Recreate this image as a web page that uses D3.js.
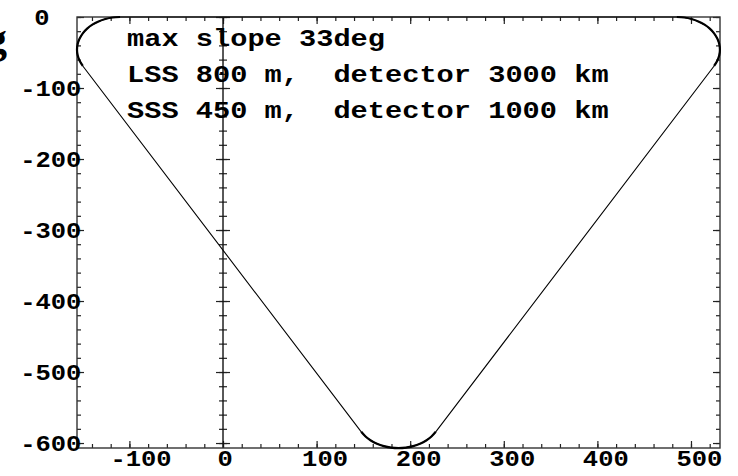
<!DOCTYPE html>
<html lang="en">
<head>
<meta charset="UTF-8">
<title>max slope 33deg</title>
<script src="https://d3js.org/d3.v7.min.js"></script>
<style>
  body { margin: 0; background: #fff; }
  svg { display: block; }
  .lbl { font-family: "Liberation Mono", "Courier New", monospace; font-weight: bold; fill: #000; }
  .tick line { stroke: #222; stroke-width: 1.2; }
</style>
</head>
<body>
<script>
const width = 738, height = 476;

const xLabels = [-100, 0, 100, 200, 300, 400, 500];
const yLabels = [0, -100, -200, -300, -400, -500, -600];
const notes = ["max slope 33deg", "LSS 800 m,  detector 3000 km", "SSS 450 m,  detector 1000 km"];

// rounded corners of the outline (x, y in m);
// the straight sides just join one corner to the next
const rightCorner = [
  [484.9, 0], [492.9, -0.7], [500.6, -2.8], [507.9, -6.2], [514.5, -10.8], [520.1, -16.4],
  [524.7, -23.0], [528.1, -30.3], [530.2, -38.0], [530.9, -46], [530.2, -54.0], [528.1, -61.7],
  [524.7, -69.0]
];
const bottomCorner = [
  [227.3, -584.2], [222.7, -590.8], [217.1, -596.4], [210.5, -601.0], [203.2, -604.4],
  [195.5, -606.5], [187.5, -607.2], [179.5, -606.5], [171.8, -604.4], [164.5, -601.0],
  [157.9, -596.4], [152.3, -590.8], [147.7, -584.2]
];
const leftCorner = [
  [-149.8, -69.0], [-153.2, -61.7], [-155.3, -54.0], [-156.0, -46], [-155.3, -38.0],
  [-153.2, -30.3], [-149.8, -23.0], [-145.2, -16.4], [-139.6, -10.8], [-133.0, -6.2],
  [-125.7, -2.8], [-118.0, -0.7], [-110.0, 0]
];

const svg = d3.select("body").append("svg")
  .attr("width", width)
  .attr("height", height);

const x = d3.scaleLinear().domain([-156, 531]).range([77, 720]);
const y = d3.scaleLinear().domain([-607, 0]).range([448, 17]);

const xMinor = d3.range(-140, 531, 20);
const yMinor = d3.range(-600, 1, 20);

function ticks(axis, values, size) {
  return axis.tickValues(values).tickSize(size).tickSizeOuter(0).tickFormat("");
}

function addAxis(axis, tx, ty) {
  const g = svg.append("g").attr("transform", `translate(${tx},${ty})`).call(axis);
  g.select(".domain").remove();
  return g;
}

// frame ticks, all pointing inwards
addAxis(ticks(d3.axisBottom(x), xMinor, -4), 0, y.range()[0]);
addAxis(ticks(d3.axisBottom(x), xLabels, -7), 0, y.range()[0]);
addAxis(ticks(d3.axisTop(x), xMinor, -4), 0, y.range()[1]);
addAxis(ticks(d3.axisTop(x), xLabels, -7), 0, y.range()[1]);
addAxis(ticks(d3.axisLeft(y), yMinor, -4), x.range()[0], 0);
addAxis(ticks(d3.axisLeft(y), yLabels, -7), x.range()[0], 0);
addAxis(ticks(d3.axisRight(y), yMinor, -4), x.range()[1], 0);
addAxis(ticks(d3.axisRight(y), yLabels, -7), x.range()[1], 0);

// vertical axis at x = 0, ticks on both sides
addAxis(ticks(d3.axisLeft(y), yMinor, 4), x(0), 0);
addAxis(ticks(d3.axisRight(y), yMinor, 4), x(0), 0);
addAxis(ticks(d3.axisLeft(y), yLabels, 7), x(0), 0);
addAxis(ticks(d3.axisRight(y), yLabels, 7), x(0), 0);

svg.append("line")
  .attr("x1", x(0)).attr("x2", x(0))
  .attr("y1", y.range()[1]).attr("y2", y.range()[0])
  .attr("stroke", "#111")
  .attr("stroke-width", 1.4);

svg.append("rect")
  .attr("x", x.range()[0])
  .attr("y", y.range()[1])
  .attr("width", x.range()[1] - x.range()[0])
  .attr("height", y.range()[0] - y.range()[1])
  .attr("fill", "none")
  .attr("stroke", "#333")
  .attr("stroke-width", 1.4);

// tick labels
svg.selectAll(".xlab")
  .data(xLabels)
  .enter().append("text")
  .attr("class", "lbl xlab")
  .attr("x", d => x(d) - 4.5 * String(d).length - 1)
  .attr("y", 466)
  .attr("font-size", 22)
  .attr("textLength", d => 15.3 * String(d).length)
  .attr("lengthAdjust", "spacingAndGlyphs")
  .text(d => d);

svg.selectAll(".ylab")
  .data(yLabels)
  .enter().append("text")
  .attr("class", "lbl ylab")
  .attr("x", d => 39 - 4.7 * String(d).length)
  .attr("y", d => y(d) + 8)
  .attr("font-size", 22)
  .attr("textLength", d => 15.3 * String(d).length)
  .attr("lengthAdjust", "spacingAndGlyphs")
  .text(d => d);

// outline
const line = d3.line().x(d => x(d[0])).y(d => y(d[1]));
svg.append("path")
  .datum(rightCorner.concat(bottomCorner, leftCorner))
  .attr("d", line.curve(d3.curveLinearClosed))
  .attr("fill", "none")
  .attr("stroke", "#000")
  .attr("stroke-width", 1.1);

const cornerLine = d3.line().x(d => x(d[0])).y(d => y(d[1])).curve(d3.curveCatmullRom);
[rightCorner, bottomCorner, leftCorner].forEach(c => {
  svg.append("path")
    .datum(c)
    .attr("d", cornerLine)
    .attr("fill", "none")
    .attr("stroke", "#000")
    .attr("stroke-width", 2.2);
});

// notes
svg.selectAll(".note")
  .data(notes)
  .enter().append("text")
  .attr("class", "lbl note")
  .attr("x", 127)
  .attr("y", (d, i) => 46 + i * 36)
  .attr("font-size", 23)
  .attr("textLength", d => 17.2 * d.length)
  .attr("lengthAdjust", "spacingAndGlyphs")
  .attr("xml:space", "preserve")
  .style("white-space", "pre")
  .text(d => d);

// clipped glyph at the left edge
svg.append("text")
  .attr("x", -15)
  .attr("y", 53)
  .attr("font-family", "Liberation Serif, serif")
  .attr("font-weight", "bold")
  .attr("font-size", 44)
  .text("g");
</script>
</body>
</html>
